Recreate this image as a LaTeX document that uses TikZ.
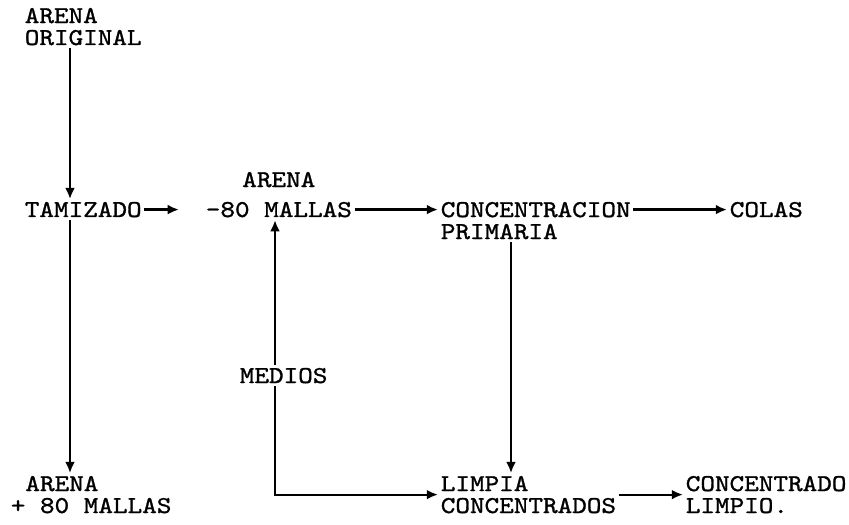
\documentclass[tikz,border=0pt]{standalone}
\usepackage{fontspec}
\newfontfamily\typewriter{lmmono10-regular.otf}[FakeStretch=1.15, FakeBold=1.2]
\usetikzlibrary{arrows.meta, positioning}

\begin{document}
\begin{tikzpicture}[x=0.025cm, y=-0.025cm]
        \tikzstyle{txt} = [inner sep=0pt, outer sep=2pt, align=left, font=\typewriter\fontsize{17.2}{15.6}\selectfont]
        \tikzstyle{connect} = [-{Latex[length=8pt, width=7pt]}, line width=1.6pt]
        \useasboundingbox (0,0) rectangle (849,525);
        \node[txt, anchor=base west] (orig) at (22,45) {ARENA\\ORIGINAL};
        \node[txt, anchor=base west] (tam) at (22,217) {TAMIZADO};
        \node[txt, align=center, anchor=base west] (mallas) at (203,217) {ARENA\\[2mm]-80 MALLAS};
        \node[txt, anchor=base west] (conc) at (438,239) {CONCENTRACION\\PRIMARIA};
        \node[txt, anchor=base west] (colas) at (727,217) {COLAS};
        \node[txt, anchor=base west] (medios) at (237,383) {MEDIOS};
        \node[txt, anchor=base west] (gruesa) at (8,513) {~ARENA\\+ 80 MALLAS};
        \node[txt, anchor=base west] (limpia) at (438,513) {LIMPIA\\CONCENTRADOS};
        \node[txt, anchor=base west] (final) at (683,513) {CONCENTRADO\\LIMPIO.};
        \coordinate (c1) at (70,0);
        \coordinate (c2) at (511,0);
        \coordinate (c3) at (275,0);
        \draw[connect] (orig.south -| c1) -- (tam.north -| c1);
        \draw[connect] (tam.south -| c1) -- (gruesa.north -| c1);
        \draw[connect, shorten >=0.6cm] (tam.east) -- (tam.east -| mallas.west);
        \draw[connect] (tam.east -| mallas.east) -- (tam.east -| conc.west);
        \draw[connect] (tam.east -| conc.east) -- (tam.east -| colas.west);
        \draw[connect] (conc.south -| c2) -- (limpia.north -| c2);
        \draw[connect] (medios.north -| c3) -- (mallas.south -| c3);
        \draw[connect] (medios.south -| c3) |- (limpia.west);
        \draw[connect] (limpia) -- (final);
      \end{tikzpicture}
\end{document}
